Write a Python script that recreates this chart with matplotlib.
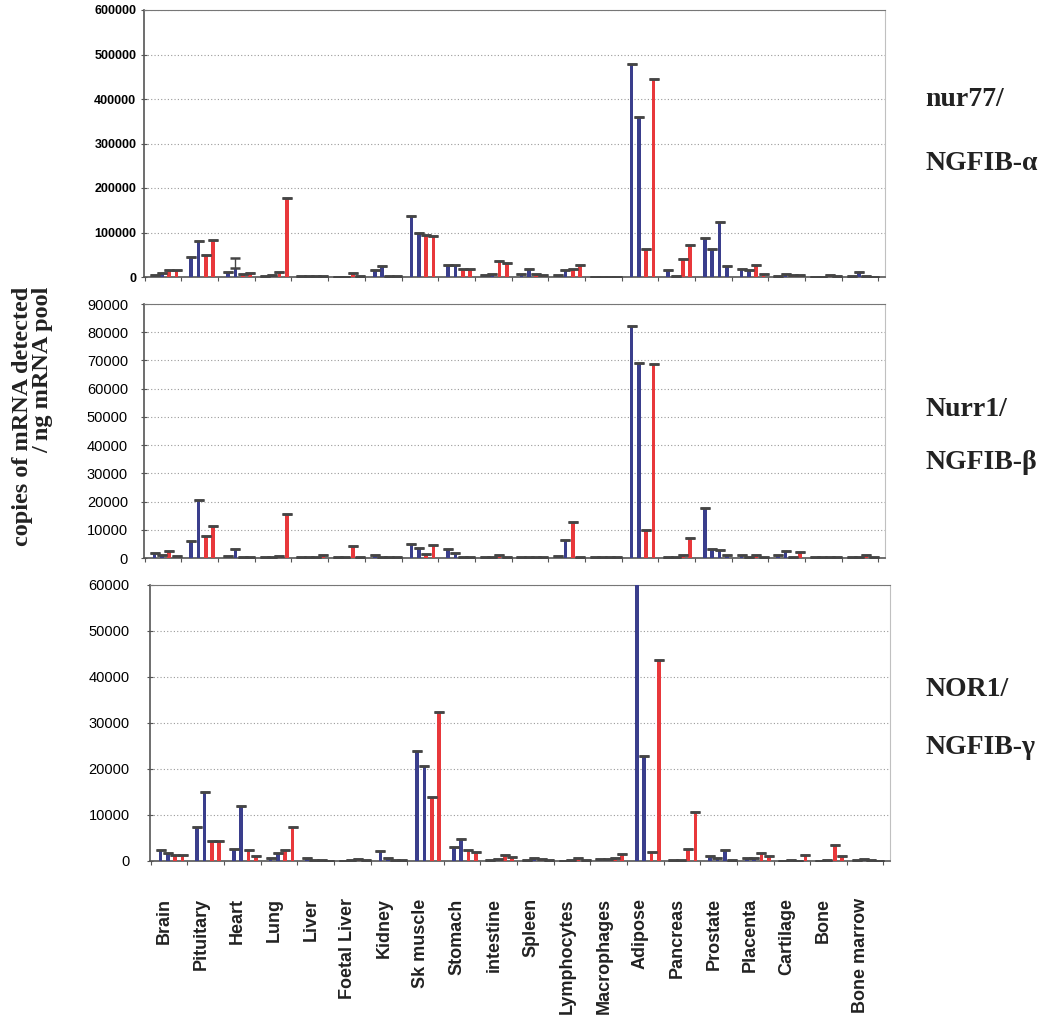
import matplotlib
matplotlib.use('Agg')
import matplotlib.pyplot as plt
from matplotlib.font_manager import FontProperties
import numpy as np

tissues = ['Brain', 'Pituitary', 'Heart', 'Lung', 'Liver', 'Foetal Liver',
           'Kidney', 'Sk muscle', 'Stomach', 'intestine', 'Spleen',
           'Lymphocytes', 'Macrophages', 'Adipose', 'Pancreas', 'Prostate',
           'Placenta', 'Cartilage', 'Bone', 'Bone marrow']

# copies of mRNA / ng mRNA pool, four samples per tissue (a,b blue  c,d red)
nur77_a = [4000, 46000, 12000, 3000, 1500, 1000, 15000, 137000, 28000, 3500,
           7500, 4000, 1000, 478000, 15000, 88000, 19000, 2000, 1000, 2000]
nur77_b = [10000, 80000, 21000, 5000, 1500, 1000, 24000, 99000, 26000, 7000,
           19000, 15000, 1000, 360000, 3000, 64000, 15000, 6000, 1000, 11000]
nur77_c = [16000, 50000, 7500, 11000, 2500, 9000, 3000, 95000, 19000, 37000,
           7500, 17000, 1000, 64000, 41000, 124000, 26000, 4000, 5000, 2000]
nur77_d = [16000, 84000, 9000, 177000, 1500, 2000, 3000, 93000, 19000, 31000,
           4000, 28000, 1000, 445000, 73000, 24000, 7500, 5000, 1500, 1000]

nurr1_a = [1800, 5900, 600, 300, 300, 200, 900, 5000, 3200, 200,
           300, 600, 200, 82300, 200, 17700, 900, 1200, 200, 200]
nurr1_b = [1000, 20400, 3200, 500, 300, 200, 500, 3500, 1800, 300,
           300, 6500, 200, 69200, 200, 3200, 500, 2400, 200, 300]
nurr1_c = [2400, 7700, 300, 600, 300, 4100, 200, 1500, 500, 900,
           300, 12700, 200, 10000, 1000, 2800, 900, 300, 200, 900]
nurr1_d = [800, 11200, 300, 15600, 900, 200, 200, 4500, 300, 300,
           300, 200, 200, 68800, 7100, 900, 300, 2000, 200, 200]

nor1_a = [2400, 7300, 2600, 600, 600, 100, 2200, 23900, 3100, 300,
          300, 100, 400, 62000, 200, 1100, 600, 100, 100, 200]
nor1_b = [1700, 15100, 12000, 1700, 300, 200, 700, 20600, 4700, 500,
          600, 200, 400, 22800, 300, 600, 600, 200, 200, 500]
nor1_c = [1200, 4400, 2300, 2300, 200, 400, 300, 14000, 2300, 1300,
          400, 700, 700, 1900, 2600, 2500, 1700, 100, 3500, 300]
nor1_d = [1200, 4400, 1100, 7500, 100, 200, 200, 32400, 1900, 900,
          200, 300, 1500, 43800, 10600, 200, 1100, 1200, 1100, 100]

# upper error where it sticks out above the bar: (tissue, sample) -> copies
nur77_err = {('Heart', 1): 22000}
nurr1_err = {}
nor1_err = {}

BLUE = '#3a3e8c'
RED = '#e8383b'
offsets = [0.27, 0.47, 0.67, 0.87]

W, H = 1052, 1030
fig = plt.figure(figsize=(W / 100, H / 100), dpi=100)


#Name: draw_panel
#draws one gene's bars with caps and the frame
def draw_panel(ax, series, errs, ymax, ystep, tick_font, pad):
    x = np.arange(len(tissues))
    for k, vals in enumerate(series):
        cols = [BLUE if (k < 2 or t == 'Prostate') else RED for t in tissues]
        up = [errs.get((t, k), 0) for t in tissues]
        ax.bar(x + offsets[k], vals, width=0.1, color=cols,
               yerr=[np.zeros(len(tissues)), up], capsize=3.8,
               error_kw=dict(ecolor='#454545', elinewidth=1, capthick=1.8),
               zorder=3)
    ax.set_xlim(-0.02, 20.18)
    ax.set_ylim(0, ymax)
    ax.set_xticks(range(21))
    ax.tick_params(axis='x', length=3, direction='out', color='#555555',
                   labelbottom=False)
    yt = np.arange(0, ymax + 1, ystep)
    ax.set_yticks(yt, labels=[str(int(v)) for v in yt])
    ax.tick_params(axis='y', direction='inout', length=5, color='#555555',
                   pad=pad)
    for lab in ax.get_yticklabels():
        lab.set_fontproperties(tick_font)
    ax.yaxis.grid(True, linestyle=(0, (1, 2)), color='#9a9a9a', linewidth=0.8)
    ax.set_axisbelow(True)
    ax.spines['top'].set_linestyle((0, (1, 1)))
    ax.spines['top'].set_color('#777777')
    ax.spines['right'].set_color('#c0c0c0')
    ax.spines['left'].set_color('#555555')
    ax.spines['bottom'].set_color('#555555')
    ax.spines['left'].set_linewidth(1.2)
    ax.spines['bottom'].set_linewidth(1.2)


def px_axes(left, top, right, bottom):
    return fig.add_axes([left / W, 1 - bottom / H, (right - left) / W,
                         (bottom - top) / H])


bold_ticks = FontProperties(family=['Liberation Sans', 'DejaVu Sans'],
                            weight='bold', size=9)
plain_ticks = FontProperties(family=['Liberation Sans Narrow', 'Liberation Sans'],
                             size=10.5)

ax1 = px_axes(144, 10, 885, 277)
draw_panel(ax1, [nur77_a, nur77_b, nur77_c, nur77_d], nur77_err,
           600000, 100000, bold_ticks, 3)

ax2 = px_axes(144, 304, 885, 558)
draw_panel(ax2, [nurr1_a, nurr1_b, nurr1_c, nurr1_d], nurr1_err,
           90000, 10000, plain_ticks, 9)

ax3 = px_axes(150, 585, 890, 861)
draw_panel(ax3, [nor1_a, nor1_b, nor1_c, nor1_d], nor1_err,
           60000, 10000, plain_ticks, 12)

# tissue names under the bottom panel
for i, name in enumerate(tissues):
    ax3.text(i + 0.37, -0.135, name, transform=ax3.get_xaxis_transform(),
             rotation=90, ha='center', va='top', fontsize=13,
             fontweight='bold', family='Liberation Sans', color='#222222')

serif = 'Liberation Serif'
fig.text(33 / W, 1 - 416 / H, 'copies of mRNA detected\n/ ng mRNA pool',
         rotation=90, ha='center', va='center', multialignment='right',
         family=serif, weight='bold', fontsize=17.5, linespacing=0.95,
         color='#222222')

# gene names on the right
titles = [('nur77/', 100), ('NGFIB-\u03b1', 164),
          ('Nurr1/', 410), ('NGFIB-\u03b2', 463),
          ('NOR1/', 690), ('NGFIB-\u03b3', 748)]
for txt, y in titles:
    fig.text(925 / W, 1 - y / H, txt, ha='left', va='center', family=serif,
             weight='bold', fontsize=20, color='#222222')

fig.savefig('out.png', dpi=100)
